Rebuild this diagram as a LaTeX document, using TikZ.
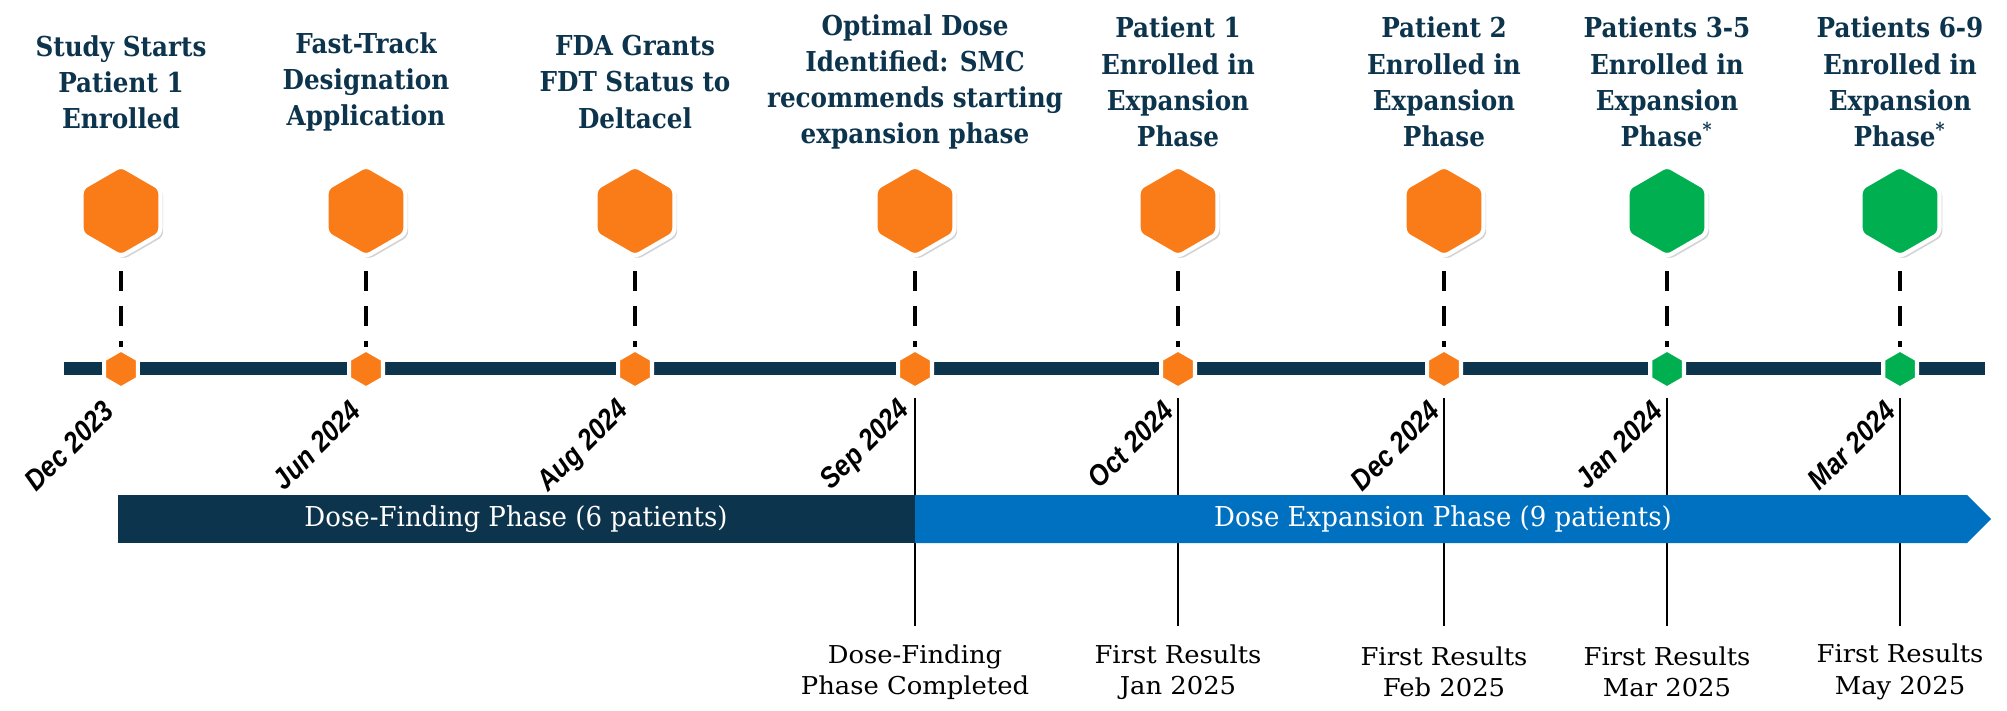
\documentclass[tikz,border=0pt]{standalone}
\usepackage{fontspec}
\usepackage{xcolor}
\usepackage{tikz}
\usetikzlibrary{shapes.geometric, shadows}

\newfontfamily\headfont[FakeStretch=0.9]{DejaVu Serif}
\newfontfamily\bodyfont[FakeStretch=0.95]{DejaVu Serif}
\newfontfamily\footfont[FakeStretch=1.05]{DejaVu Serif}
\newfontfamily\datefont[FakeStretch=0.88]{Liberation Sans}

\definecolor{navy}{RGB}{13,52,77}
\definecolor{hexorange}{RGB}{250,124,24}
\definecolor{hexgreen}{RGB}{0,176,80}
\definecolor{phaseblue}{RGB}{0,112,192}

\tikzset{
  bighex/.style={regular polygon, regular polygon sides=6, shape border rotate=30,
    minimum size=0.91cm, inner sep=0pt, draw=white, line width=1.2pt,
    rounded corners=1.5pt, fill=#1,
    drop shadow={shadow xshift=0.8pt, shadow yshift=-0.8pt, opacity=0.35}},
  smallhex/.style={regular polygon, regular polygon sides=6, shape border rotate=30,
    minimum size=0.39cm, inner sep=0pt, draw=white, line width=1.2pt, fill=#1},
  headline/.style={align=center, text=navy,
    font=\headfont\bfseries\fontsize{7.8}{10.3}\selectfont},
  datelabel/.style={rotate=45, anchor=east, inner sep=0pt,
    font=\datefont\bfseries\itshape\fontsize{8.3}{9}\selectfont},
  result/.style={align=center, font=\footfont\fontsize{7.0}{8.9}\selectfont},
  phasetext/.style={text=white, font=\bodyfont\fontsize{7.8}{9}\selectfont},
  dashline/.style={line width=1.35pt, dash pattern=on 0.2cm off 0.15cm, shorten <=0.12cm},
  tickline/.style={line width=0.35pt}
}

\begin{document}
\begin{tikzpicture}

\useasboundingbox (0,0) rectangle (20.07,7.10);

\foreach \x/\n/\c in {1.21/1/hexorange, 3.66/2/hexorange, 6.35/3/hexorange,
                      9.15/4/hexorange, 11.78/5/hexorange, 14.44/6/hexorange,
                      16.67/7/hexgreen, 19.00/8/hexgreen} {
  \node[bighex=\c] (big\n) at (\x,4.99) {};
}

\coordinate (barL) at (0.64,3.41);
\coordinate (barR) at (19.85,3.41);
\draw[navy, line width=0.13cm] (barL) -- (barR);

\foreach \x/\n/\c in {1.21/1/hexorange, 3.66/2/hexorange, 6.35/3/hexorange,
                      9.15/4/hexorange, 11.78/5/hexorange, 14.44/6/hexorange,
                      16.67/7/hexgreen, 19.00/8/hexgreen} {
  \node[smallhex=\c] (small\n) at (\x,3.41) {};
  \draw[dashline] (big\n) -- (small\n);
}

\node[headline] (head1) at (1.21,6.28) {Study Starts\\Patient 1\\Enrolled};
\node[headline] (head2) at (3.66,6.28) {Fast-Track\\Designation\\Application};
\node[headline] (head3) at (6.35,6.28) {FDA Grants\\FDT Status to\\Deltacel};
\node[headline] (head4) at (9.15,6.28) {Optimal Dose\\Identified: SMC\\recommends starting\\expansion phase};
\node[headline] (head5) at (11.78,6.28) {Patient 1\\Enrolled in\\Expansion\\Phase};
\node[headline] (head6) at (14.44,6.28) {Patient 2\\Enrolled in\\Expansion\\Phase};
\node[headline] (head7) at (16.67,6.28) {Patients 3-5\\Enrolled in\\Expansion\\Phase\textsuperscript{*}};
\node[headline] (head8) at (19.00,6.28) {Patients 6-9\\Enrolled in\\Expansion\\Phase\textsuperscript{*}};

\foreach \x/\n/\d in {1.09/1/Dec 2023, 3.56/2/Jun 2024, 6.25/3/Aug 2024,
                      9.06/4/Sep 2024, 11.69/5/Oct 2024, 14.35/6/Dec 2024,
                      16.58/7/Jan 2024, 18.91/8/Mar 2024} {
  \node[datelabel] (date\n) at (\x,3.04) {\d};
}

\foreach \x/\n in {9.15/4, 11.78/5, 14.44/6, 16.67/7, 19.00/8} {
  \coordinate (foot\n) at (\x,0.84);
  \draw[tickline, shorten <=0.07cm] (small\n.south) -- (foot\n);
}

\fill[navy] (1.18,1.67) rectangle (9.15,2.15);
\fill[phaseblue] (9.15,1.67) -- (19.67,1.67) -- (19.91,1.91) -- (19.67,2.15) -- (9.15,2.15) -- cycle;
\node[phasetext] (phase1) at (5.16,1.91) {Dose-Finding Phase (6 patients)};
\node[phasetext] (phase2) at (14.43,1.91) {Dose Expansion Phase (9 patients)};

\node[result] (res4) at (9.15,0.38) {Dose-Finding\\Phase Completed};
\node[result] (res5) at (11.78,0.38) {First Results\\Jan 2025};
\node[result] (res6) at (14.44,0.38) {First Results\\Feb 2025};
\node[result] (res7) at (16.67,0.38) {First Results\\Mar 2025};
\node[result] (res8) at (19.00,0.38) {First Results\\May 2025};

\end{tikzpicture}
\end{document}
